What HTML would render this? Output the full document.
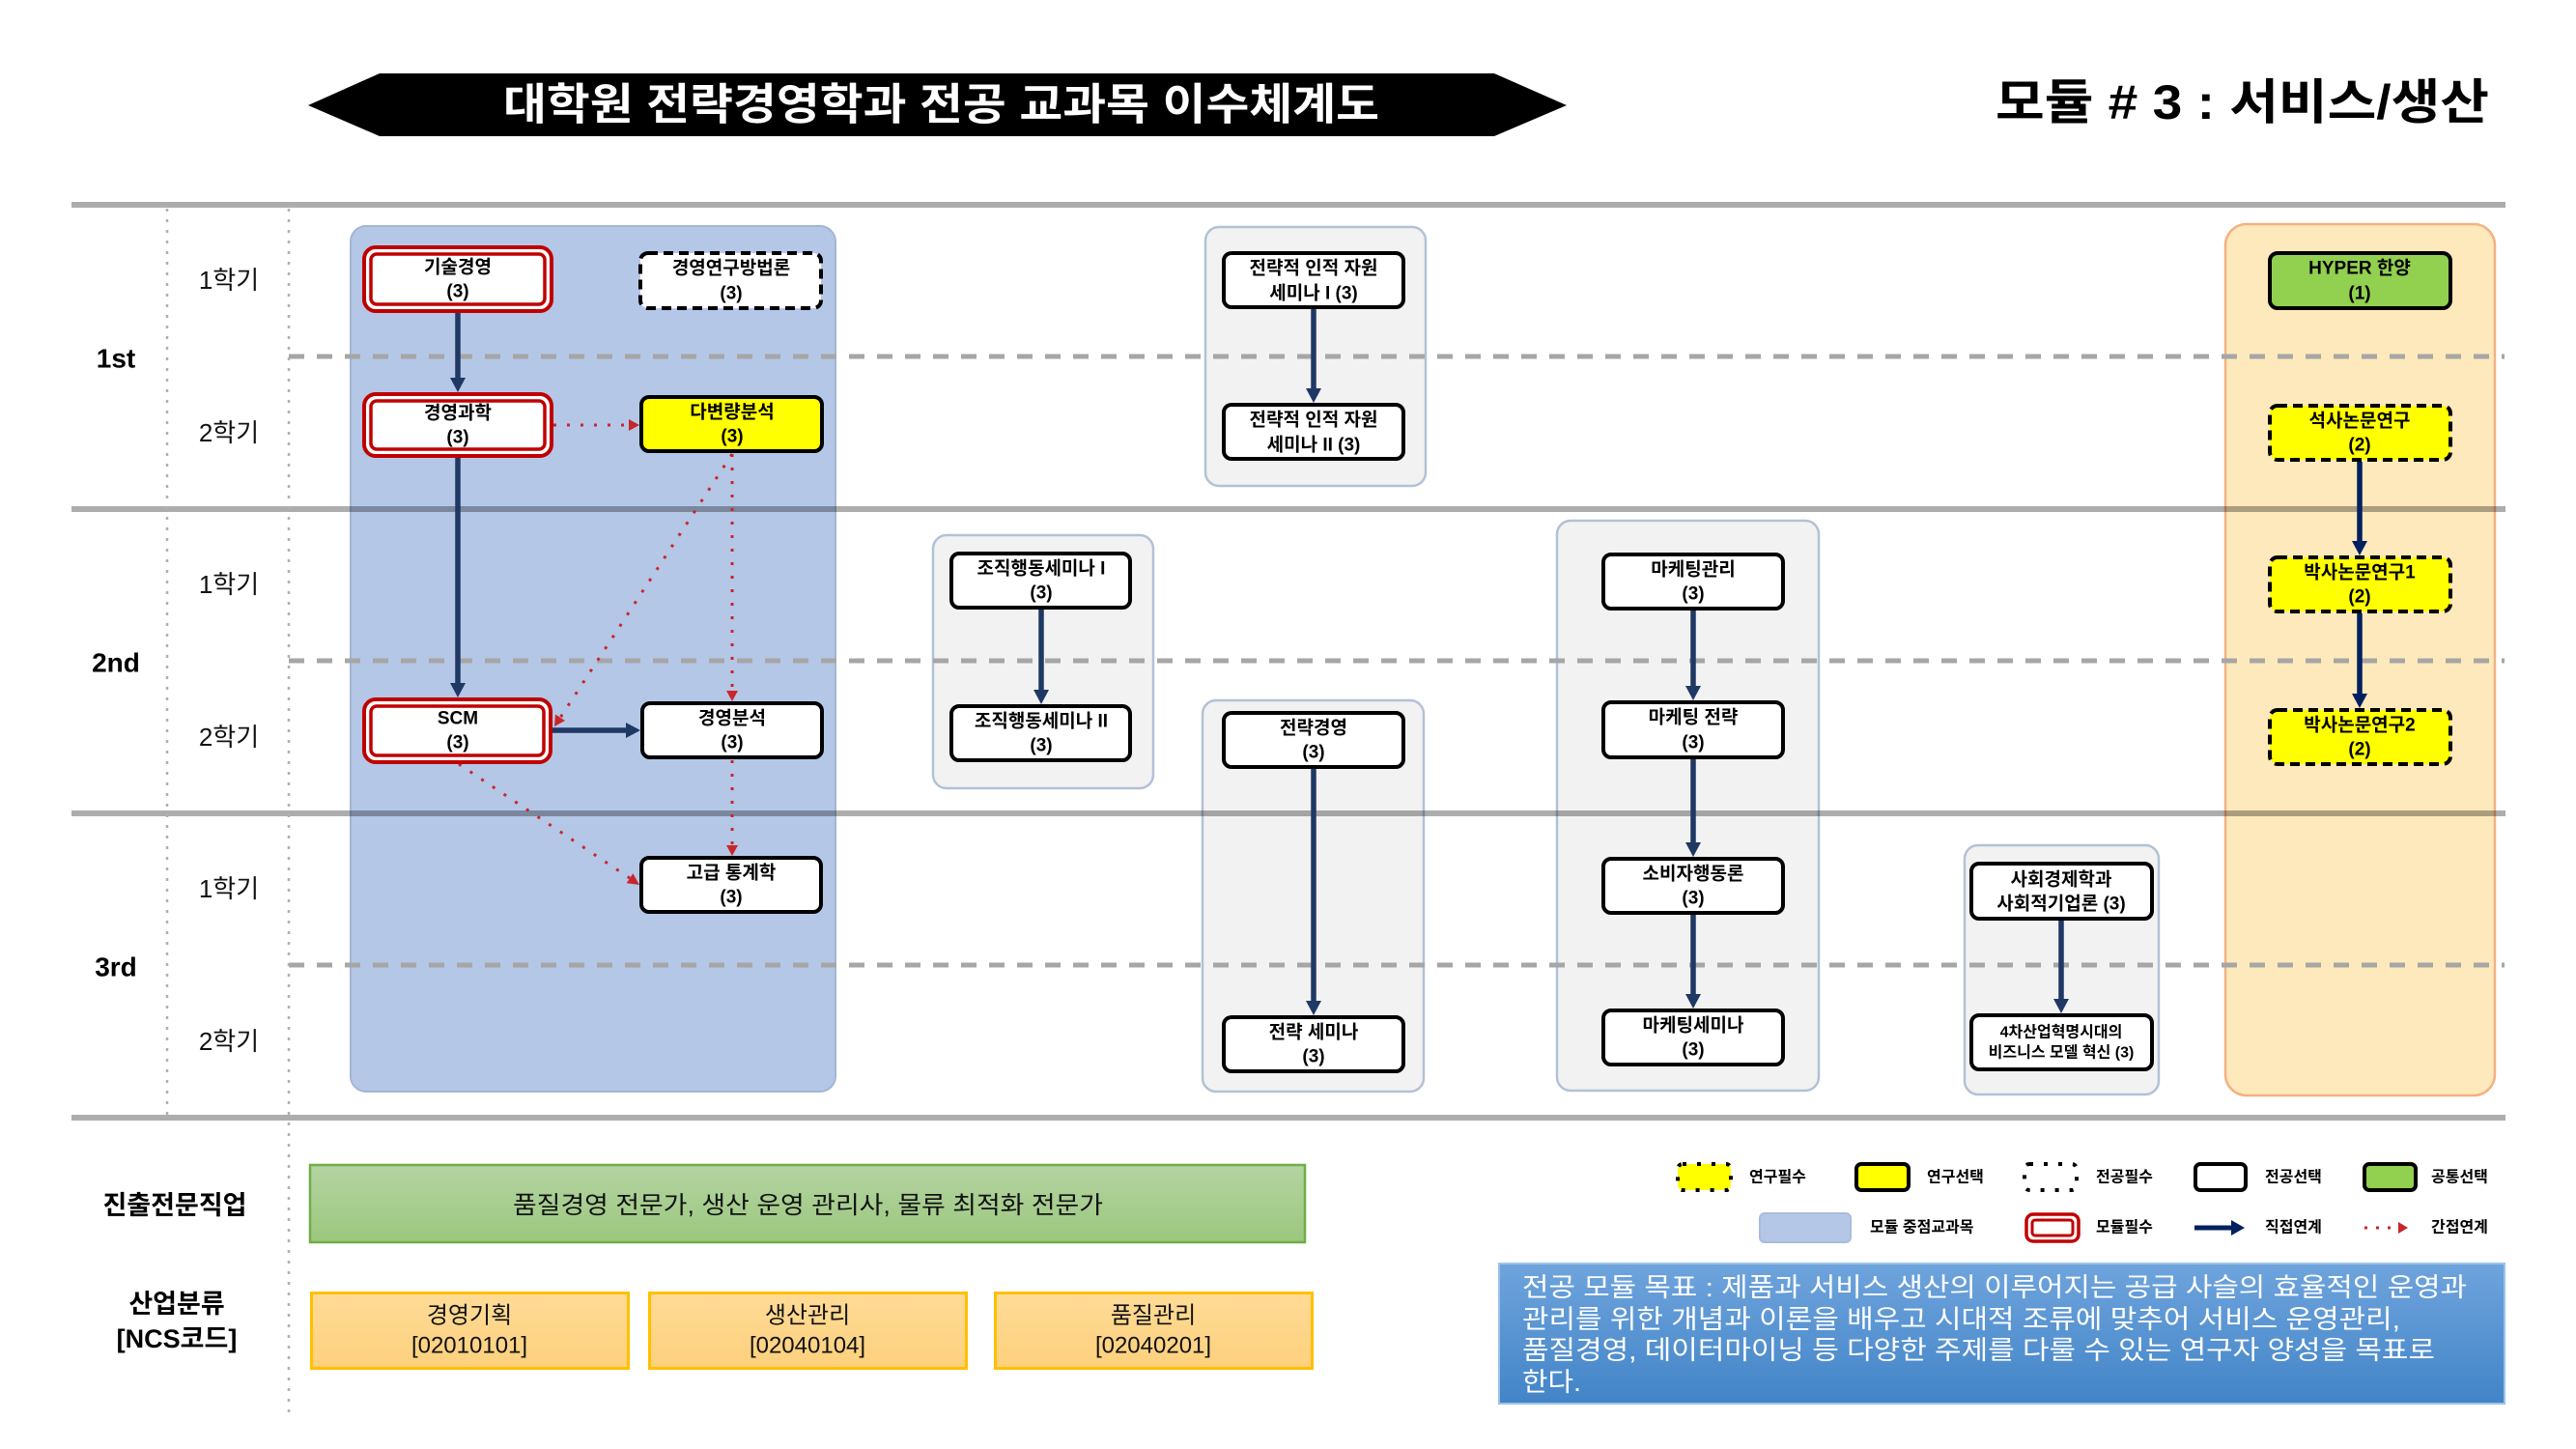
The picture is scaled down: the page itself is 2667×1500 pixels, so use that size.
<!DOCTYPE html>
<html><head><meta charset="utf-8">
<style>
html,body{margin:0;padding:0;background:#fff;}
svg{display:block;}
text{font-family:"Liberation Sans","Noto Sans CJK KR",sans-serif;}
.n{font-size:19px;font-weight:bold;fill:#000;text-anchor:middle;dominant-baseline:central;}
.s{font-size:16px;font-weight:bold;fill:#000;text-anchor:middle;dominant-baseline:central;}
.lg{font-size:16px;font-weight:bold;fill:#000;dominant-baseline:central;}
.sem{font-size:26px;fill:#111;text-anchor:middle;dominant-baseline:central;}
.yr{font-size:28px;font-weight:bold;fill:#000;text-anchor:middle;dominant-baseline:central;}
.bl{font-size:27px;font-weight:bold;fill:#000;text-anchor:middle;dominant-baseline:central;}
.ob{font-size:24px;fill:#111;text-anchor:middle;dominant-baseline:central;}
.obj{font-size:27px;fill:#fff;dominant-baseline:central;}
</style></head>
<body>
<svg width="2667" height="1500" viewBox="0 0 2667 1500" xmlns="http://www.w3.org/2000/svg">
<defs>
<linearGradient id="gG" x1="0" y1="0" x2="0" y2="1"><stop offset="0" stop-color="#b4d4a2"/><stop offset="1" stop-color="#9bc77e"/></linearGradient>
<linearGradient id="gO" x1="0" y1="0" x2="0" y2="1"><stop offset="0" stop-color="#fedb97"/><stop offset="1" stop-color="#fdd07c"/></linearGradient>
<linearGradient id="gB" x1="0" y1="0" x2="0" y2="1"><stop offset="0" stop-color="#6fa4dd"/><stop offset="1" stop-color="#4284c7"/></linearGradient>
</defs>

<!-- Title banner -->
<polygon points="319,109 393,76 1547,76 1622,109 1547,141 393,141" fill="#000"/>
<text x="521" y="108" textLength="907" lengthAdjust="spacingAndGlyphs" style="font-size:45px;font-weight:bold;fill:#fff;dominant-baseline:central;">대학원 전략경영학과  전공 교과목 이수체계도</text>
<text x="2066" y="106" textLength="511" lengthAdjust="spacingAndGlyphs" style="font-size:50px;font-weight:bold;fill:#000;dominant-baseline:central;">모듈 # 3 : 서비스/생산</text>

<!-- Groups -->
<rect x="363" y="234" width="502" height="896" rx="16" fill="#b4c7e7" stroke="#a3b5d3" stroke-width="2"/>
<rect x="1248" y="235" width="228" height="268" rx="14" fill="#f2f2f2" stroke="#b3c1d6" stroke-width="2.5"/>
<rect x="966" y="554" width="228" height="262" rx="14" fill="#f2f2f2" stroke="#b3c1d6" stroke-width="2.5"/>
<rect x="1245" y="725" width="229" height="405" rx="14" fill="#f2f2f2" stroke="#b3c1d6" stroke-width="2.5"/>
<rect x="1612" y="539" width="271" height="590" rx="14" fill="#f2f2f2" stroke="#b3c1d6" stroke-width="2.5"/>
<rect x="2034" y="875" width="201" height="258" rx="14" fill="#f2f2f2" stroke="#b3c1d6" stroke-width="2.5"/>
<rect x="2304" y="232" width="279" height="902" rx="22" fill="#fde9bb" stroke="#f4b183" stroke-width="2.5"/>

<!-- Grid lines -->
<g fill="rgba(0,0,0,0.32)">
<rect x="74" y="209" width="2520" height="6"/>
<rect x="74" y="524" width="2520" height="6"/>
<rect x="74" y="839" width="2520" height="6"/>
<rect x="74" y="1154" width="2520" height="6"/>
</g>
<g stroke="#a6a6a6" stroke-width="5" stroke-dasharray="16 13">
<line x1="299" y1="369" x2="2593" y2="369"/>
<line x1="299" y1="684" x2="2593" y2="684"/>
<line x1="299" y1="999" x2="2593" y2="999"/>
</g>
<g stroke="#b0b0b0" stroke-width="2.5" stroke-dasharray="3 8">
<line x1="173" y1="216" x2="173" y2="1157"/>
<line x1="299" y1="216" x2="299" y2="1470"/>
</g>

<!-- Row labels -->
<text class="yr" x="120" y="371">1st</text>
<text class="yr" x="120" y="686">2nd</text>
<text class="yr" x="120" y="1001">3rd</text>
<text class="sem" x="237" y="290">1학기</text>
<text class="sem" x="237" y="448">2학기</text>
<text class="sem" x="237" y="605">1학기</text>
<text class="sem" x="237" y="763">2학기</text>
<text class="sem" x="237" y="920">1학기</text>
<text class="sem" x="237" y="1078">2학기</text>

<!-- Red dotted (indirect) connectors -->
<g stroke="#c8262c" stroke-width="3" stroke-dasharray="3 11" fill="none">
<line x1="573" y1="440" x2="652" y2="440"/>
<line x1="758" y1="470" x2="758" y2="716"/>
<line x1="758" y1="470" x2="580" y2="743"/>
<line x1="758" y1="787" x2="758" y2="876"/>
<line x1="475" y1="791" x2="652" y2="909"/>
</g>
<g fill="#c8262c">
<polygon points="651,434 651,446 662,440"/>
<polygon points="752,715 764,715 758,726"/>
<polygon points="585,746 575,739.5 574,752"/>
<polygon points="752,875 764,875 758,886"/>
<polygon points="648.7,914.3 655.3,904.3 662,916"/>
</g>

<!-- Navy (direct) connectors -->
<g stroke="#1f3864" stroke-width="5.5">
<line x1="474" y1="324" x2="474" y2="394"/>
<line x1="474" y1="474" x2="474" y2="710"/>
<line x1="572" y1="756" x2="651" y2="756"/>
<line x1="1360" y1="320" x2="1360" y2="405"/>
<line x1="1078" y1="631" x2="1078" y2="717"/>
<line x1="1360" y1="796" x2="1360" y2="1039"/>
<line x1="1753" y1="632" x2="1753" y2="713"/>
<line x1="1753" y1="786" x2="1753" y2="875"/>
<line x1="1753" y1="947" x2="1753" y2="1032"/>
<line x1="2134" y1="953" x2="2134" y2="1037"/>
</g>
<g stroke="#002060" stroke-width="5.5">
<line x1="2443" y1="478" x2="2443" y2="563"/>
<line x1="2443" y1="635" x2="2443" y2="721"/>
</g>
<g fill="#1f3864">
<polygon points="466,391 482,391 474,406"/>
<polygon points="466,707 482,707 474,722"/>
<polygon points="648,748 648,764 663,756"/>
<polygon points="1352,402 1368,402 1360,417"/>
<polygon points="1070,714 1086,714 1078,729"/>
<polygon points="1352,1036 1368,1036 1360,1051"/>
<polygon points="1745,710 1761,710 1753,725"/>
<polygon points="1745,872 1761,872 1753,887"/>
<polygon points="1745,1029 1761,1029 1753,1044"/>
<polygon points="2126,1034 2142,1034 2134,1049"/>
</g>
<g fill="#002060">
<polygon points="2435,560 2451,560 2443,575"/>
<polygon points="2435,718 2451,718 2443,733"/>
</g>

<!-- Module-required (double red) nodes -->
<g fill="#fff" stroke="#c00000">
<rect x="377" y="256" width="194" height="66" rx="12" stroke-width="4"/>
<rect x="384" y="263" width="180" height="52" rx="6" stroke-width="3.5"/>
<rect x="377" y="408" width="194" height="64" rx="12" stroke-width="4"/>
<rect x="384" y="415" width="180" height="50" rx="6" stroke-width="3.5"/>
<rect x="377" y="724" width="193" height="65" rx="12" stroke-width="4"/>
<rect x="384" y="731" width="179" height="51" rx="6" stroke-width="3.5"/>
</g>

<!-- Regular nodes -->
<g stroke="#000" stroke-width="4">
<rect x="663" y="262" width="187" height="57" rx="8" fill="#fff" stroke-dasharray="10 6"/>
<rect x="664" y="411" width="187" height="56" rx="8" fill="#ffff00"/>
<rect x="665" y="728" width="186" height="56" rx="8" fill="#fff"/>
<rect x="664" y="888" width="186" height="56" rx="8" fill="#fff"/>
<rect x="1267" y="262" width="186" height="56" rx="8" fill="#fff"/>
<rect x="1267" y="419" width="186" height="56" rx="8" fill="#fff"/>
<rect x="985" y="573" width="185" height="56" rx="8" fill="#fff"/>
<rect x="985" y="731" width="185" height="56" rx="8" fill="#fff"/>
<rect x="1267" y="738" width="186" height="56" rx="8" fill="#fff"/>
<rect x="1267" y="1053" width="186" height="56" rx="8" fill="#fff"/>
<rect x="1660" y="574" width="186" height="56" rx="8" fill="#fff"/>
<rect x="1660" y="727" width="186" height="57" rx="8" fill="#fff"/>
<rect x="1660" y="889" width="186" height="56" rx="8" fill="#fff"/>
<rect x="1660" y="1046" width="186" height="56" rx="8" fill="#fff"/>
<rect x="2041" y="894" width="187" height="57" rx="8" fill="#fff"/>
<rect x="2041" y="1051" width="187" height="56" rx="8" fill="#fff"/>
<rect x="2350" y="262" width="187" height="57" rx="8" fill="#92d050"/>
<rect x="2350" y="420" width="187" height="56" rx="8" fill="#ffff00" stroke-dasharray="10 6"/>
<rect x="2350" y="577" width="187" height="56" rx="8" fill="#ffff00" stroke-dasharray="10 6"/>
<rect x="2350" y="735" width="187" height="56" rx="8" fill="#ffff00" stroke-dasharray="10 6"/>
</g>

<!-- Node labels -->
<text class="n" x="474" y="277">기술경영</text><text class="n" x="474" y="302">(3)</text>
<text class="n" x="474" y="428">경영과학</text><text class="n" x="474" y="453">(3)</text>
<text class="n" x="474" y="744">SCM</text><text class="n" x="474" y="769">(3)</text>
<text class="n" x="757" y="278">경영연구방법론</text><text class="n" x="757" y="304">(3)</text>
<text class="n" x="758" y="427">다변량분석</text><text class="n" x="758" y="452">(3)</text>
<text class="n" x="758" y="744">경영분석</text><text class="n" x="758" y="769">(3)</text>
<text class="n" x="757" y="904">고급 통계학</text><text class="n" x="757" y="929">(3)</text>
<text class="n" x="1360" y="278">전략적 인적 자원</text><text class="n" x="1360" y="304">세미나 I (3)</text>
<text class="n" x="1360" y="435">전략적 인적 자원</text><text class="n" x="1360" y="461">세미나 II (3)</text>
<text class="n" x="1078" y="589">조직행동세미나 I</text><text class="n" x="1078" y="614">(3)</text>
<text class="n" x="1078" y="747">조직행동세미나 II</text><text class="n" x="1078" y="772">(3)</text>
<text class="n" x="1360" y="754">전략경영</text><text class="n" x="1360" y="779">(3)</text>
<text class="n" x="1360" y="1069">전략 세미나</text><text class="n" x="1360" y="1094">(3)</text>
<text class="n" x="1753" y="590">마케팅관리</text><text class="n" x="1753" y="615">(3)</text>
<text class="n" x="1753" y="743">마케팅 전략</text><text class="n" x="1753" y="769">(3)</text>
<text class="n" x="1753" y="905">소비자행동론</text><text class="n" x="1753" y="930">(3)</text>
<text class="n" x="1753" y="1062">마케팅세미나</text><text class="n" x="1753" y="1087">(3)</text>
<text class="n" x="2134" y="911">사회경제학과</text><text class="n" x="2134" y="936">사회적기업론 (3)</text>
<text class="s" x="2134" y="1069">4차산업혁명시대의</text><text class="s" x="2134" y="1090">비즈니스 모델 혁신 (3)</text>
<text class="n" x="2443" y="278">HYPER 한양</text><text class="n" x="2443" y="304">(1)</text>
<text class="n" x="2443" y="436">석사논문연구</text><text class="n" x="2443" y="461">(2)</text>
<text class="n" x="2443" y="593">박사논문연구1</text><text class="n" x="2443" y="618">(2)</text>
<text class="n" x="2443" y="751">박사논문연구2</text><text class="n" x="2443" y="776">(2)</text>

<!-- Bottom section -->
<text class="bl" x="181" y="1248">진출전문직업</text>
<text class="bl" x="183" y="1350">산업분류</text>
<text class="bl" x="183" y="1386">[NCS코드]</text>

<rect x="321" y="1206" width="1030" height="80" fill="url(#gG)" stroke="#70ad47" stroke-width="2.5"/>
<text x="531" y="1248" textLength="611" lengthAdjust="spacingAndGlyphs" style="font-size:25px;fill:#111;dominant-baseline:central;">품질경영 전문가, 생산 운영 관리사, 물류 최적화 전문가</text>

<g stroke="#ffc000" stroke-width="3">
<rect x="322.5" y="1338.5" width="328" height="78" fill="url(#gO)"/>
<rect x="672.5" y="1338.5" width="328" height="78" fill="url(#gO)"/>
<rect x="1030.5" y="1338.5" width="328" height="78" fill="url(#gO)"/>
</g>
<text class="ob" x="486" y="1362">경영기획</text><text class="ob" x="486" y="1393">[02010101]</text>
<text class="ob" x="836" y="1362">생산관리</text><text class="ob" x="836" y="1393">[02040104]</text>
<text class="ob" x="1194" y="1362">품질관리</text><text class="ob" x="1194" y="1393">[02040201]</text>

<!-- Legend -->
<rect x="1737" y="1205" width="55" height="27" rx="5" fill="#ffff00" stroke="#000" stroke-width="4" stroke-dasharray="4 11"/>
<text class="lg" x="1811" y="1219">연구필수</text>
<rect x="1922" y="1205" width="54" height="27" rx="5" fill="#ffff00" stroke="#000" stroke-width="4"/>
<text class="lg" x="1995" y="1219">연구선택</text>
<rect x="2096" y="1205" width="54" height="27" rx="5" fill="#fff" stroke="#000" stroke-width="4" stroke-dasharray="4 11"/>
<text class="lg" x="2170" y="1219">전공필수</text>
<rect x="2273" y="1205" width="52" height="27" rx="5" fill="#fff" stroke="#000" stroke-width="4"/>
<text class="lg" x="2345" y="1219">전공선택</text>
<rect x="2448" y="1205" width="53" height="27" rx="5" fill="#92d050" stroke="#000" stroke-width="4"/>
<text class="lg" x="2517" y="1219">공통선택</text>

<rect x="1822" y="1256" width="94" height="30" rx="5" fill="#b4c7e7" stroke="#a9bcd9" stroke-width="2"/>
<text class="lg" x="1936" y="1271">모듈 중점교과목</text>
<rect x="2098" y="1257" width="54" height="28" rx="7" fill="#fff" stroke="#c00000" stroke-width="3.5"/>
<rect x="2104" y="1263" width="42" height="16" rx="3" fill="#fff" stroke="#c00000" stroke-width="3"/>
<text class="lg" x="2170" y="1271">모듈필수</text>
<line x1="2272" y1="1271" x2="2312" y2="1271" stroke="#002060" stroke-width="5"/>
<polygon points="2310,1263 2310,1279 2324,1271" fill="#002060"/>
<text class="lg" x="2345" y="1271">직접연계</text>
<line x1="2448" y1="1271" x2="2484" y2="1271" stroke="#c8262c" stroke-width="3" stroke-dasharray="3 9"/>
<polygon points="2483,1265 2483,1277 2493,1271" fill="#c8262c"/>
<text class="lg" x="2517" y="1271">간접연계</text>

<!-- Objective box -->
<rect x="1552" y="1308" width="1041" height="145" fill="url(#gB)" stroke="#9dc3e6" stroke-width="2"/>
<text class="obj" x="1576" y="1333" textLength="978" lengthAdjust="spacingAndGlyphs">전공 모듈 목표 : 제품과 서비스 생산의 이루어지는 공급 사슬의 효율적인 운영과</text>
<text class="obj" x="1576" y="1366" textLength="909" lengthAdjust="spacingAndGlyphs">관리를 위한 개념과 이론을 배우고 시대적 조류에 맞추어 서비스 운영관리,</text>
<text class="obj" x="1576" y="1398" textLength="945" lengthAdjust="spacingAndGlyphs">품질경영, 데이터마이닝 등 다양한 주제를 다룰 수 있는 연구자 양성을 목표로</text>
<text class="obj" x="1576" y="1431" textLength="61" lengthAdjust="spacingAndGlyphs">한다.</text>
</svg>
</body></html>
